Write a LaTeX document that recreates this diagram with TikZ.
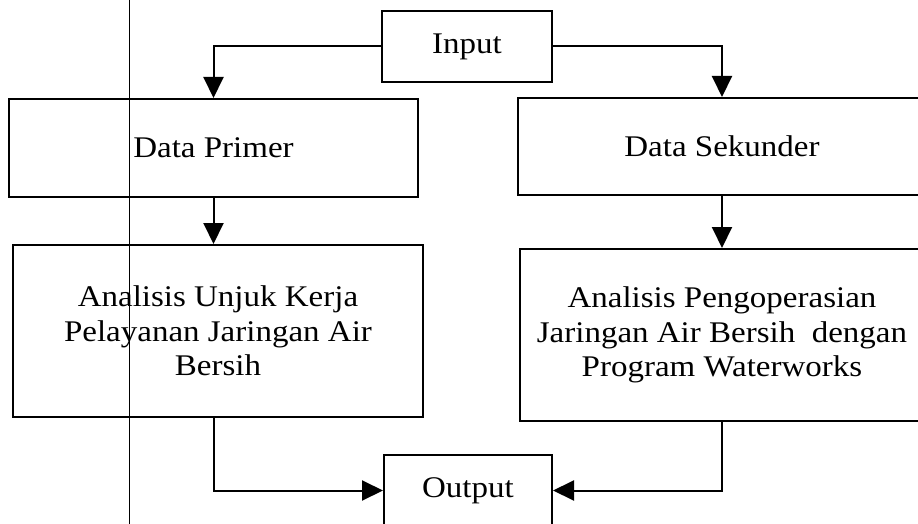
\documentclass[tikz,border=0pt]{standalone}
\usepackage{fontspec}
\setmainfont[FakeStretch=1.1]{Liberation Serif}
\usetikzlibrary{arrows.meta}

\begin{document}
\begin{tikzpicture}[x=1pt, y=-1pt,
    kotak/.style={draw, line width=2pt, inner sep=0pt, align=center,
        font=\fontsize{30}{34.5}\selectfont},
    panah/.style={line width=2pt, -{Triangle[length=21pt, width=20pt]}}]
    \clip (0,0) rectangle (918,524);
    \draw[line width=1pt] (129,0) -- (129,524); % garis tepi halaman
    \node[kotak, minimum width=170pt, minimum height=71pt] (input) at (467,46.5) {Input};
    \node[kotak, minimum width=409pt, minimum height=98pt] (primer) at (213.5,148) {Data Primer};
    \node[kotak, minimum width=408pt, minimum height=97pt] (sekunder) at (722,146.5) {Data Sekunder};
    \node[kotak, minimum width=410pt, minimum height=172pt] (unjuk) at (218,331)
        {Analisis Unjuk Kerja\\Pelayanan Jaringan Air\\Bersih};
    \node[kotak, minimum width=404pt, minimum height=172pt] (operasi) at (722,335)
        {Analisis Pengoperasian\\Jaringan Air Bersih\ \ dengan\\Program Waterworks};
    \node[kotak, minimum width=168pt, minimum height=71pt] (output) at (468,490.5) {Output};
    \draw[panah] (input.west) -| (primer.north);
    \draw[panah] (input.east) -| (sekunder.north);
    \draw[panah] (primer.south) -- (primer.south |- unjuk.north);
    \draw[panah] (sekunder.south) -- (sekunder.south |- operasi.north);
    \draw[panah] (primer.south |- unjuk.south) |- (output.west);
    \draw[panah] (operasi.south) |- (output.east);
\end{tikzpicture}
\end{document}
